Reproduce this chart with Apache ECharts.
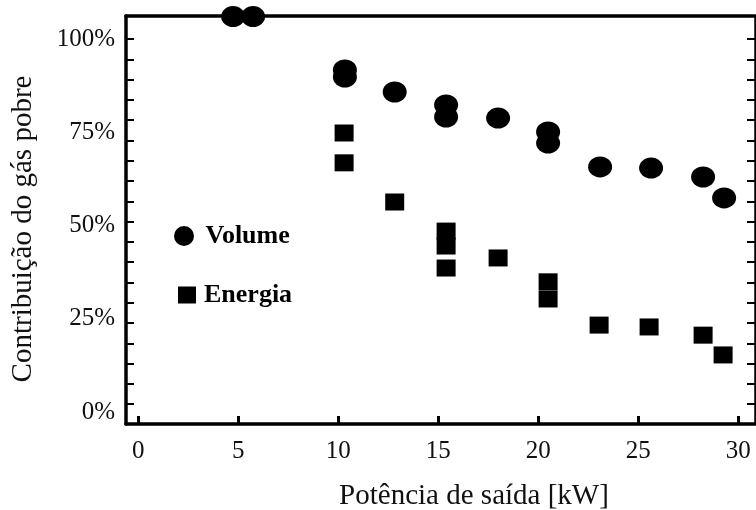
<!DOCTYPE html>
<html>
<head>
<meta charset="utf-8">
<script src="https://cdn.jsdelivr.net/npm/echarts@6/dist/echarts.min.js"></script>
<style>
  html, body { margin: 0; padding: 0; background: #fff; }
  #chart { width: 756px; height: 510px; }
</style>
</head>
<body>
<div id="chart"></div>
<script>
// dados
const volumeX = [4.74, 5.74, 10.33, 10.33, 12.82, 15.39, 15.39, 17.99, 20.49, 20.49, 23.09, 25.64, 28.24, 29.29];
const volumeY = [106, 106, 91.7, 89.8, 85.8, 82.3, 79.1, 78.8, 75.1, 72.1, 65.7, 65.4, 63.0, 57.4];
const energiaX = [10.29, 10.29, 12.82, 15.39, 15.39, 15.39, 17.99, 20.49, 20.49, 23.04, 25.54, 28.24, 29.24];
const energiaY = [74.8, 66.8, 56.3, 48.5, 44.5, 38.6, 41.3, 34.9, 30.3, 23.3, 22.8, 20.6, 15.3];

const xTicks = [0, 5, 10, 15, 20, 25, 30];
const yLabels = [0, 25, 50, 75, 100];

// marcas pequenas do eixo y
const yTicks = [];
for (let v = 100; v > 0; v -= 5.44) yTicks.push(+v.toFixed(2));

const serif = 'Liberation Serif';
const ellipse = 'path://M0,10A10,10,0,1,1,20,10A10,10,0,1,1,0,10Z';

const chart = echarts.init(document.getElementById('chart'), null, { renderer: 'canvas' });

const option = {
  animation: false,
  backgroundColor: '#fff',
  grid: { left: 126, right: 1, top: 16, bottom: 86, outerBoundsMode: 'none' },
  legend: [
    {
      data: [{ name: 'Volume', icon: ellipse }],
      left: 169, top: 218,
      itemWidth: 23, itemHeight: 20,
      textStyle: { fontFamily: serif, fontWeight: 'bold', fontSize: 26, color: '#000', padding: [0, 0, 0, 5] }
    },
    {
      data: [{ name: 'Energia', icon: 'rect' }],
      left: 173, top: 277,
      itemWidth: 18, itemHeight: 17,
      textStyle: { fontFamily: serif, fontWeight: 'bold', fontSize: 26, color: '#000', padding: [0, 0, 0, 3] }
    }
  ],
  xAxis: [
    {
      type: 'value',
      min: -0.615, max: 30.835,
      name: 'Potência de saída [kW]',
      nameLocation: 'middle',
      nameGap: 58,
      nameTextStyle: { fontFamily: serif, fontSize: 29, color: '#111', padding: [0, 0, 0, 67] },
      axisLine: { onZero: false, lineStyle: { color: '#000', width: 3.5 } },
      axisTick: { inside: true, length: 8, lineStyle: { width: 3, color: '#000' }, customValues: xTicks },
      axisLabel: { customValues: xTicks, fontFamily: serif, fontSize: 25, color: '#111', margin: 15 },
      splitLine: { show: false }
    },
    {
      type: 'value',
      position: 'top',
      min: -0.615, max: 30.835,
      axisLine: { onZero: false, lineStyle: { color: '#000', width: 3.5 } },
      axisTick: { show: false },
      axisLabel: { show: false },
      splitLine: { show: false }
    }
  ],
  yAxis: [
    {
      type: 'value',
      min: -3.217, max: 106.166,
      name: 'Contribuição do gás pobre',
      nameLocation: 'middle',
      nameGap: 88,
      nameTextStyle: { fontFamily: serif, fontSize: 29, color: '#111', padding: [0, 18, 0, 0] },
      axisLine: { show: true, onZero: false, lineStyle: { color: '#000', width: 3.5 } },
      axisTick: { show: true, inside: true, length: 8, lineStyle: { width: 2, color: '#000' }, customValues: yTicks },
      axisLabel: {
        customValues: yLabels,
        fontFamily: serif, fontSize: 25, color: '#111', margin: 11,
        formatter: v => v + '%'
      },
      splitLine: { show: false }
    },
    {
      type: 'value',
      position: 'right',
      min: -3.217, max: 106.166,
      axisLine: { show: true, onZero: false, lineStyle: { color: '#000', width: 2.5 } },
      axisTick: { show: true, inside: true, length: 8, lineStyle: { width: 2, color: '#000' }, customValues: yTicks },
      axisLabel: { show: false },
      splitLine: { show: false }
    }
  ],
  series: [
    {
      name: 'Volume',
      type: 'scatter',
      symbol: ellipse,
      symbolSize: [24, 21],
      clip: false,
      itemStyle: { color: '#000', opacity: 1 },
      data: volumeX.map((x, i) => [x, volumeY[i]])
    },
    {
      name: 'Energia',
      type: 'scatter',
      symbol: 'rect',
      symbolSize: [19, 17],
      clip: false,
      itemStyle: { color: '#000', opacity: 1 },
      data: energiaX.map((x, i) => [x, energiaY[i]])
    }
  ]
};

chart.setOption(option);
</script>
</body>
</html>
